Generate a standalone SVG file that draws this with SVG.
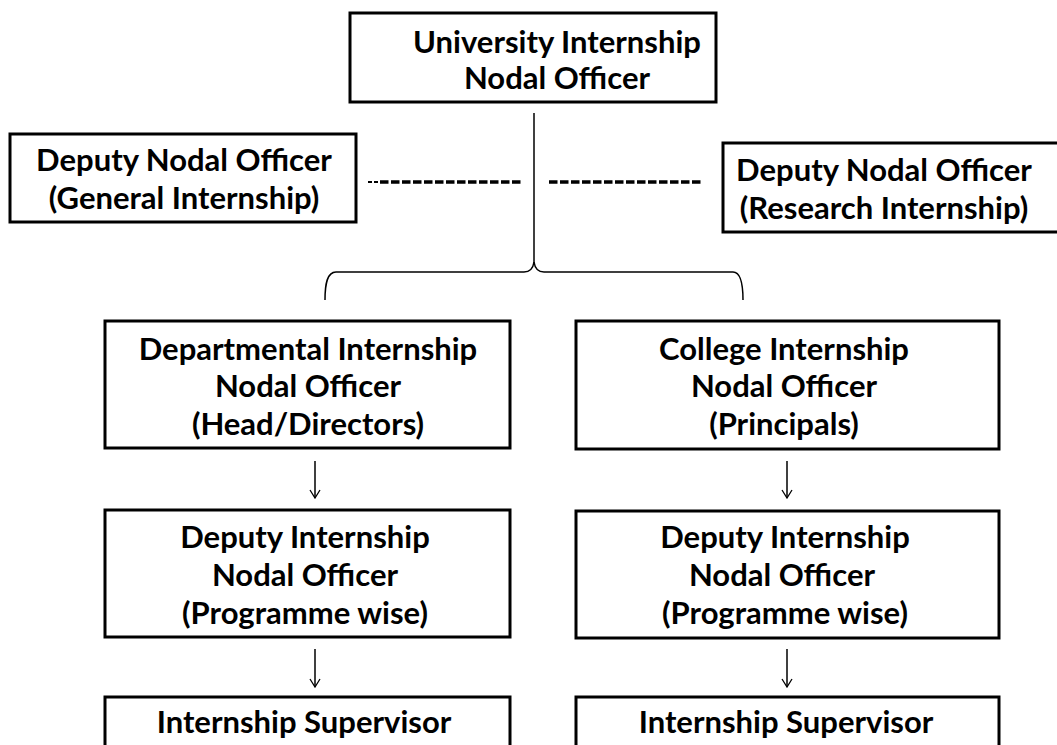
<svg xmlns="http://www.w3.org/2000/svg" width="1057" height="745" viewBox="0 0 1057 745">
<style>
.box{fill:#fff;stroke:#000;stroke-width:3}
.t{font-family:Lato,"Liberation Sans",sans-serif;font-weight:700;font-size:31px;fill:#000;text-anchor:middle}
.c{fill:none;stroke:#000;stroke-width:1.5}
.d{fill:none;stroke:#000;stroke-width:3.5;stroke-dasharray:8.5 2.5}
</style>
<defs>
<marker id="v" markerWidth="12" markerHeight="12" refX="11" refY="6" orient="auto" markerUnits="userSpaceOnUse" viewBox="0 0 12 12">
<path d="M3 1 L11 6 L3 11" fill="none" stroke="#000" stroke-width="1.3"/>
</marker>
</defs>
<rect width="1057" height="745" fill="#fff"/>
<g id="connectors">
<line class="c" x1="534" y1="113" x2="534" y2="264"/>
<path class="c" d="M325 300 C325 284 327 272 336 272 L524 272 C530 272 533 269 534 262 C535 269 538 272 544 272 L733 272 C740 272 743 284 743 300"/>
<line x1="368" y1="182" x2="378" y2="182" stroke="#000" stroke-width="2" stroke-dasharray="4 2"/>
<line class="d" x1="380" y1="182" x2="522" y2="182"/>
<line class="d" x1="549" y1="182" x2="703" y2="182"/>
<line class="c" x1="315" y1="461" x2="315" y2="498" marker-end="url(#v)"/>
<line class="c" x1="787" y1="461" x2="787" y2="498" marker-end="url(#v)"/>
<line class="c" x1="315" y1="649" x2="315" y2="687" marker-end="url(#v)"/>
<line class="c" x1="787" y1="649" x2="787" y2="687" marker-end="url(#v)"/>
</g>
<g id="n-university">
<rect class="box" x="350" y="13" width="366" height="89"/>
<text class="t" x="557" y="53">University Internship</text>
<text class="t" x="557" y="89">Nodal Officer</text>
</g>
<g id="n-deputy-general">
<rect class="box" x="10" y="134" width="346" height="88"/>
<text class="t" x="184" y="171">Deputy Nodal Officer</text>
<text class="t" x="184" y="209">(General Internship)</text>
</g>
<g id="n-deputy-research">
<rect class="box" x="723" y="143" width="345" height="89"/>
<text class="t" x="884" y="181">Deputy Nodal Officer</text>
<text class="t" x="884" y="219">(Research Internship)</text>
</g>
<g id="n-departmental">
<rect class="box" x="105" y="321" width="405" height="127"/>
<text class="t" x="308" y="360">Departmental Internship</text>
<text class="t" x="308" y="397">Nodal Officer</text>
<text class="t" x="308" y="435">(Head/Directors)</text>
</g>
<g id="n-college">
<rect class="box" x="576" y="321" width="423" height="128"/>
<text class="t" x="784" y="360">College Internship</text>
<text class="t" x="784" y="397">Nodal Officer</text>
<text class="t" x="784" y="435">(Principals)</text>
</g>
<g id="n-deputy-dept">
<rect class="box" x="105" y="510" width="405" height="127"/>
<text class="t" x="305" y="548">Deputy Internship</text>
<text class="t" x="305" y="586">Nodal Officer</text>
<text class="t" x="305" y="624">(Programme wise)</text>
</g>
<g id="n-deputy-college">
<rect class="box" x="576" y="511" width="423" height="127"/>
<text class="t" x="785" y="548">Deputy Internship</text>
<text class="t" x="782" y="586">Nodal Officer</text>
<text class="t" x="785" y="624">(Programme wise)</text>
</g>
<g id="n-supervisor-dept">
<rect class="box" x="105" y="697" width="405" height="80"/>
<text class="t" x="304" y="733">Internship Supervisor</text>
</g>
<g id="n-supervisor-college">
<rect class="box" x="576" y="697" width="423" height="80"/>
<text class="t" x="786" y="733">Internship Supervisor</text>
</g>
</svg>
